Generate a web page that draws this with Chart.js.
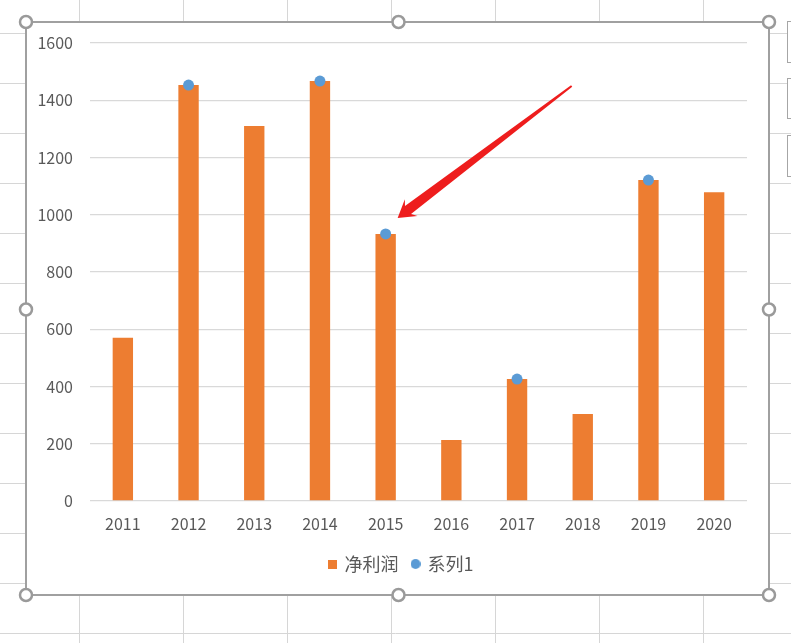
<!DOCTYPE html>
<html>
<head>
<meta charset="utf-8">
<script src="https://cdn.jsdelivr.net/npm/chart.js@4/dist/chart.umd.min.js"></script>
<style>
html,body{margin:0;padding:0;background:#fff;}
#wrap{width:791px;height:643px;position:relative;}
</style>
</head>
<body>
<div id="wrap"><canvas id="c" width="791" height="643"></canvas></div>
<script>
const categories = ['2011','2012','2013','2014','2015','2016','2017','2018','2019','2020'];
const netProfit = [570, 1453, 1310, 1467, 933, 213, 426, 304, 1121, 1079];
const series1 = [null, 1453, null, 1467, 933, null, 426, null, 1121, null];
const seriesNames = ['净利润', '系列1'];
const yMin = 0, yMax = 1600, yStep = 200;

const BAR_COLOR = '#ED7D31';
const DOT_COLOR = '#5B9BD5';
const FONT = '"Noto Sans CJK SC", "DejaVu Sans", sans-serif';
const BOX = {l: 26, t: 22, r: 769, b: 595};

function makeIcon(kind, color, size) {
  const c = document.createElement('canvas');
  c.width = size; c.height = size;
  const g = c.getContext('2d');
  g.fillStyle = color;
  if (kind === 'rect') {
    g.fillRect(0, 0, size, size);
  } else {
    g.beginPath(); g.arc(size / 2, size / 2, size / 2, 0, Math.PI * 2); g.fill();
  }
  return c;
}
const legendIcons = [makeIcon('rect', BAR_COLOR, 9), makeIcon('circle', DOT_COLOR, 10)];

const decor = {
  id: 'decor',
  afterLayout(chart) {
    // centre the legend under the whole chart box, as Excel does
    const lg = chart.legend;
    if (lg) { lg.left += 13; lg.right += 13; }
  },
  beforeDraw(chart) {
    const ctx = chart.ctx;
    ctx.save();
    ctx.fillStyle = '#ffffff';
    ctx.fillRect(0, 0, chart.width, chart.height);
    ctx.strokeStyle = '#d6d6d6';
    ctx.lineWidth = 1;
    for (let x = 79.5; x < chart.width; x += 104) {
      ctx.beginPath(); ctx.moveTo(x, 0); ctx.lineTo(x, chart.height); ctx.stroke();
    }
    for (let y = 33.5; y < chart.height; y += 50) {
      ctx.beginPath(); ctx.moveTo(0, y); ctx.lineTo(chart.width, y); ctx.stroke();
    }
    ctx.fillStyle = '#fff';
    ctx.strokeStyle = '#a6a6a6';
    [[21, 62], [78, 118], [135, 176]].forEach(([a, b]) => {
      ctx.fillRect(787, a, 10, b - a);
      ctx.strokeRect(787.5, a + 0.5, 10, b - a);
    });
    ctx.fillStyle = '#ffffff';
    ctx.fillRect(BOX.l, BOX.t, BOX.r - BOX.l, BOX.b - BOX.t);
    ctx.restore();
  },
  afterDraw(chart) {
    const ctx = chart.ctx;
    ctx.save();
    ctx.strokeStyle = '#a0a0a0';
    ctx.lineWidth = 2;
    ctx.strokeRect(BOX.l, BOX.t, BOX.r - BOX.l, BOX.b - BOX.t);
    const mx = (BOX.l + BOX.r) / 2 + 1, my = (BOX.t + BOX.b) / 2 + 1;
    [[BOX.l, BOX.t], [mx, BOX.t], [BOX.r, BOX.t], [BOX.l, my], [BOX.r, my], [BOX.l, BOX.b], [mx, BOX.b], [BOX.r, BOX.b]].forEach(([x, y]) => {
      ctx.beginPath();
      ctx.arc(x, y, 6, 0, Math.PI * 2);
      ctx.fillStyle = '#ffffff';
      ctx.fill();
      ctx.lineWidth = 2.5;
      ctx.strokeStyle = '#9a9a9a';
      ctx.stroke();
    });
    // red arrow pointing at the 2015 point
    const xs = chart.scales.x, ys = chart.scales.y;
    const tipX = xs.getPixelForValue(4) + 12;
    const tipY = ys.getPixelForValue(series1[4]) - 16;
    const tailX = tipX + 174, tailY = tipY - 132;
    const dx = tailX - tipX, dy = tailY - tipY;
    const len = Math.hypot(dx, dy);
    const ux = dx / len, uy = dy / len;
    const px = -uy, py = ux;
    const headLen = 17, headHalf = 10.5, bodyHalf = 5, tailHalf = 1;
    const bx = tipX + ux * headLen, by = tipY + uy * headLen;
    const sx = tipX + ux * (headLen - 4), sy = tipY + uy * (headLen - 4);
    ctx.beginPath();
    ctx.moveTo(tipX, tipY);
    ctx.lineTo(bx + px * headHalf, by + py * headHalf);
    ctx.lineTo(sx + px * bodyHalf, sy + py * bodyHalf);
    ctx.lineTo(tailX + px * tailHalf, tailY + py * tailHalf);
    ctx.lineTo(tailX - px * tailHalf, tailY - py * tailHalf);
    ctx.lineTo(sx - px * bodyHalf, sy - py * bodyHalf);
    ctx.lineTo(bx - px * headHalf, by - py * headHalf);
    ctx.closePath();
    ctx.fillStyle = '#ee1d1d';
    ctx.fill();
    ctx.restore();
  }
};

new Chart(document.getElementById('c'), {
  type: 'bar',
  data: {
    labels: categories,
    datasets: [
      {
        type: 'bar',
        label: seriesNames[0],
        data: netProfit,
        backgroundColor: BAR_COLOR,
        borderWidth: 0,
        categoryPercentage: 1,
        barPercentage: 0.31,
        order: 1
      },
      {
        type: 'line',
        label: seriesNames[1],
        data: series1,
        showLine: false,
        pointRadius: 5.5,
        pointHoverRadius: 5.5,
        pointBackgroundColor: DOT_COLOR,
        pointBorderWidth: 0,
        backgroundColor: DOT_COLOR,
        borderColor: DOT_COLOR,
        order: 0,
        pointStyle: 'circle'
      }
    ]
  },
  options: {
    responsive: false,
    animation: false,
    devicePixelRatio: 1,
    layout: {padding: {left: 30, right: 44, top: 43, bottom: 60}},
    plugins: {
      legend: {
        position: 'bottom',
        labels: {
          usePointStyle: true,
          boxWidth: 6,
          boxHeight: 9,
          padding: 14,
          color: '#595959',
          font: {family: FONT, size: 18},
          generateLabels(chart) {
            const items = Chart.defaults.plugins.legend.labels.generateLabels(chart);
            items.forEach(it => { it.pointStyle = legendIcons[it.datasetIndex]; });
            return items;
          },
          sort: (a, b) => a.datasetIndex - b.datasetIndex
        }
      },
      tooltip: {enabled: false}
    },
    scales: {
      x: {
        grid: {display: false, drawTicks: false},
        border: {display: false},
        ticks: {color: '#595959', font: {family: FONT, size: 16}, padding: 13, maxRotation: 0},
        afterFit(s) { s.height = 40; }
      },
      y: {
        min: yMin, max: yMax,
        grid: {color: '#d9d9d9', lineWidth: 1.3, drawTicks: false},
        border: {display: false},
        ticks: {stepSize: yStep, color: '#595959', font: {family: FONT, size: 16}, padding: 17,
                callback: v => String(v)},
        afterFit(s) { s.width = 60; }
      }
    }
  },
  plugins: [decor]
});
</script>
</body>
</html>
